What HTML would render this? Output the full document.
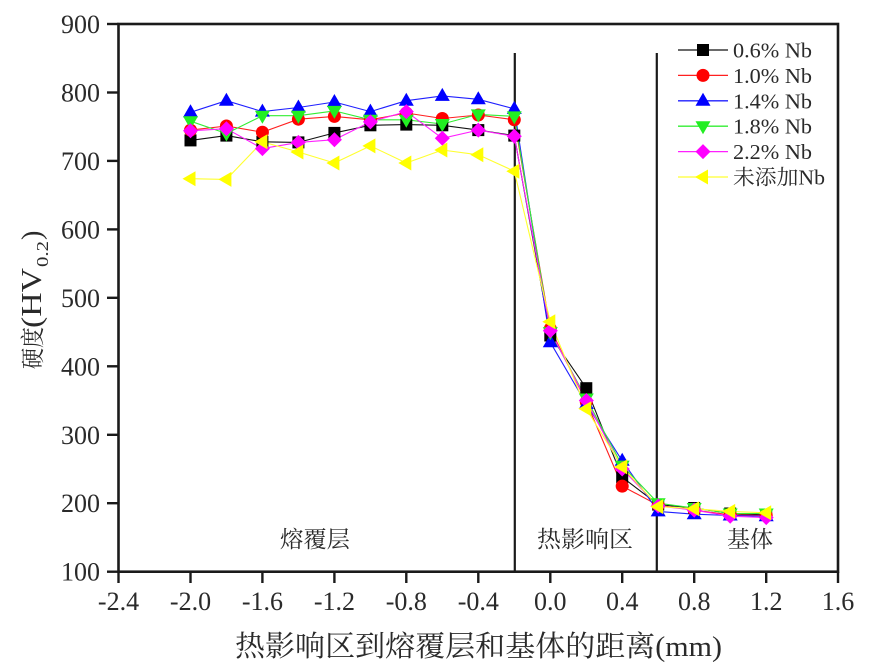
<!DOCTYPE html>
<html>
<head>
<meta charset="utf-8">
<style>
html,body{margin:0;padding:0;background:#fff;}
svg{display:block;}
text{font-family:"Liberation Serif","Noto Serif CJK SC",serif;fill:#2a2a2a;}
</style>
</head>
<body>
<svg width="872" height="668" viewBox="0 0 872 668" xmlns="http://www.w3.org/2000/svg">
<defs>
  <rect id="sq" x="-6" y="-6" width="12" height="12" fill="#000"/>
  <circle id="ci" cx="0" cy="0" r="6.5" fill="#ff0000"/>
  <polygon id="tu" points="0,-8 7.5,5 -7.5,5" fill="#0000ff"/>
  <polygon id="td" points="0,8 7.5,-5 -7.5,-5" fill="#22ee22"/>
  <polygon id="di" points="0,-7.5 7.5,0 0,7.5 -7.5,0" fill="#ff00ff"/>
  <polygon id="tl" points="-8,0 5,-7.5 5,7.5" fill="#ffff00"/>
</defs>

<!-- frame -->
<rect x="118.5" y="24" width="719.5" height="547.7" fill="none" stroke="#1a1a1a" stroke-width="2.6"/>

<!-- dividers -->
<line x1="514.8" y1="53" x2="514.8" y2="571.7" stroke="#1a1a1a" stroke-width="2.2"/>
<line x1="656.8" y1="53" x2="656.8" y2="571.7" stroke="#1a1a1a" stroke-width="2.2"/>

<!-- y ticks -->
<g stroke="#1a1a1a" stroke-width="2.4">
  <line x1="107" y1="24" x2="118.5" y2="24"/>
  <line x1="107" y1="92.5" x2="118.5" y2="92.5"/>
  <line x1="107" y1="160.9" x2="118.5" y2="160.9"/>
  <line x1="107" y1="229.4" x2="118.5" y2="229.4"/>
  <line x1="107" y1="297.8" x2="118.5" y2="297.8"/>
  <line x1="107" y1="366.3" x2="118.5" y2="366.3"/>
  <line x1="107" y1="434.8" x2="118.5" y2="434.8"/>
  <line x1="107" y1="503.2" x2="118.5" y2="503.2"/>
  <line x1="107" y1="571.7" x2="118.5" y2="571.7"/>
</g>
<g font-size="26" text-anchor="end">
  <text x="100" y="33">900</text>
  <text x="100" y="101.5">800</text>
  <text x="100" y="169.9">700</text>
  <text x="100" y="238.4">600</text>
  <text x="100" y="306.8">500</text>
  <text x="100" y="375.3">400</text>
  <text x="100" y="443.8">300</text>
  <text x="100" y="512.2">200</text>
  <text x="100" y="580.7">100</text>
</g>

<!-- x ticks -->
<g stroke="#1a1a1a" stroke-width="2.4">
  <line x1="118.5" y1="571.7" x2="118.5" y2="583"/>
  <line x1="190.5" y1="571.7" x2="190.5" y2="583"/>
  <line x1="262.4" y1="571.7" x2="262.4" y2="583"/>
  <line x1="334.4" y1="571.7" x2="334.4" y2="583"/>
  <line x1="406.3" y1="571.7" x2="406.3" y2="583"/>
  <line x1="478.3" y1="571.7" x2="478.3" y2="583"/>
  <line x1="550.3" y1="571.7" x2="550.3" y2="583"/>
  <line x1="622.2" y1="571.7" x2="622.2" y2="583"/>
  <line x1="694.2" y1="571.7" x2="694.2" y2="583"/>
  <line x1="766.2" y1="571.7" x2="766.2" y2="583"/>
  <line x1="838" y1="571.7" x2="838" y2="583"/>
</g>
<g font-size="26" text-anchor="middle">
  <text x="118.5" y="610">-2.4</text>
  <text x="190.5" y="610">-2.0</text>
  <text x="262.4" y="610">-1.6</text>
  <text x="334.4" y="610">-1.2</text>
  <text x="406.3" y="610">-0.8</text>
  <text x="478.3" y="610">-0.4</text>
  <text x="550.3" y="610">0.0</text>
  <text x="622.2" y="610">0.4</text>
  <text x="694.2" y="610">0.8</text>
  <text x="766.2" y="610">1.2</text>
  <text x="838" y="610">1.6</text>
</g>

<!-- x title -->
<text x="235" y="656" font-size="29" textLength="487" lengthAdjust="spacingAndGlyphs">热影响区到熔覆层和基体的距离(mm)</text>

<!-- y title -->
<g transform="translate(41,369) rotate(-90)">
  <text x="0" y="0" font-size="24" textLength="42" lengthAdjust="spacingAndGlyphs">硬度</text>
  <text x="41" y="0" font-size="28" textLength="60" lengthAdjust="spacingAndGlyphs">(HV</text>
  <text x="102" y="7" font-size="17" textLength="26" lengthAdjust="spacingAndGlyphs">0.2</text>
  <text x="129" y="0" font-size="28">)</text>
</g>

<!-- region labels -->
<text x="315" y="547" font-size="23" text-anchor="middle" textLength="70" lengthAdjust="spacingAndGlyphs">熔覆层</text>
<text x="585" y="547" font-size="23" text-anchor="middle" textLength="96" lengthAdjust="spacingAndGlyphs">热影响区</text>
<text x="750" y="547" font-size="23" text-anchor="middle" textLength="46" lengthAdjust="spacingAndGlyphs">基体</text>

<!-- series lines -->
<g fill="none" stroke-width="1.1" stroke-linejoin="round">
  <polyline stroke="#111" points="190.5,140.4 226.4,135.6 262.4,141.8 298.4,142.4 334.4,132.9 370.4,125.3 406.3,124.6 442.3,125.3 478.3,130.1 514.3,135.6 550.3,335.5 586.3,388.2 622.2,477.2 658.2,504.6 694.2,508.0 730.2,513.5 766.2,514.9"/>
  <polyline stroke="#ff2020" points="190.5,130.1 226.4,126.0 262.4,132.2 298.4,119.2 334.4,116.4 370.4,119.8 406.3,113.0 442.3,118.5 478.3,115.0 514.3,119.8 550.3,328.7 586.3,401.9 622.2,486.1 658.2,505.3 694.2,510.1 730.2,514.9 766.2,515.5"/>
  <polyline stroke="#2020ff" points="190.5,112.3 226.4,100.7 262.4,111.6 298.4,107.5 334.4,102.0 370.4,111.6 406.3,100.7 442.3,95.9 478.3,99.3 514.3,108.9 550.3,342.3 586.3,404.0 622.2,460.8 658.2,511.4 694.2,514.2 730.2,515.5 766.2,516.2"/>
  <polyline stroke="#33ee33" points="190.5,121.2 226.4,133.5 262.4,115.7 298.4,115.7 334.4,110.9 370.4,119.8 406.3,119.8 442.3,124.0 478.3,114.4 514.3,116.4 550.3,332.1 586.3,398.5 622.2,465.6 658.2,503.2 694.2,508.0 730.2,513.5 766.2,513.5"/>
  <polyline stroke="#ff20ff" points="190.5,130.8 226.4,128.7 262.4,148.6 298.4,142.4 334.4,139.7 370.4,121.9 406.3,111.6 442.3,138.3 478.3,130.1 514.3,136.3 550.3,330.7 586.3,400.5 622.2,469.0 658.2,506.0 694.2,510.1 730.2,516.2 766.2,517.6"/>
  <polyline stroke="#ffff30" points="190.5,178.7 226.4,179.4 262.4,141.8 298.4,152.0 334.4,163.0 370.4,145.9 406.3,163.0 442.3,150.0 478.3,154.8 514.3,171.2 550.3,321.8 586.3,408.8 622.2,466.9 658.2,506.6 694.2,508.7 730.2,511.4 766.2,512.8"/>
</g>

<!-- markers: black -->
<g>
  <use href="#sq" x="190.5" y="140.4"/><use href="#sq" x="226.4" y="135.6"/><use href="#sq" x="262.4" y="141.8"/><use href="#sq" x="298.4" y="142.4"/><use href="#sq" x="334.4" y="132.9"/><use href="#sq" x="370.4" y="125.3"/><use href="#sq" x="406.3" y="124.6"/><use href="#sq" x="442.3" y="125.3"/><use href="#sq" x="478.3" y="130.1"/><use href="#sq" x="514.3" y="135.6"/><use href="#sq" x="550.3" y="335.5"/><use href="#sq" x="586.3" y="388.2"/><use href="#sq" x="622.2" y="477.2"/><use href="#sq" x="658.2" y="504.6"/><use href="#sq" x="694.2" y="508.0"/><use href="#sq" x="730.2" y="513.5"/><use href="#sq" x="766.2" y="514.9"/>
</g>
<!-- red -->
<g>
  <use href="#ci" x="190.5" y="130.1"/><use href="#ci" x="226.4" y="126.0"/><use href="#ci" x="262.4" y="132.2"/><use href="#ci" x="298.4" y="119.2"/><use href="#ci" x="334.4" y="116.4"/><use href="#ci" x="370.4" y="119.8"/><use href="#ci" x="406.3" y="113.0"/><use href="#ci" x="442.3" y="118.5"/><use href="#ci" x="478.3" y="115.0"/><use href="#ci" x="514.3" y="119.8"/><use href="#ci" x="550.3" y="328.7"/><use href="#ci" x="586.3" y="401.9"/><use href="#ci" x="622.2" y="486.1"/><use href="#ci" x="658.2" y="505.3"/><use href="#ci" x="694.2" y="510.1"/><use href="#ci" x="730.2" y="514.9"/><use href="#ci" x="766.2" y="515.5"/>
</g>
<!-- blue -->
<g>
  <use href="#tu" x="190.5" y="112.3"/><use href="#tu" x="226.4" y="100.7"/><use href="#tu" x="262.4" y="111.6"/><use href="#tu" x="298.4" y="107.5"/><use href="#tu" x="334.4" y="102.0"/><use href="#tu" x="370.4" y="111.6"/><use href="#tu" x="406.3" y="100.7"/><use href="#tu" x="442.3" y="95.9"/><use href="#tu" x="478.3" y="99.3"/><use href="#tu" x="514.3" y="108.9"/><use href="#tu" x="550.3" y="342.3"/><use href="#tu" x="586.3" y="404.0"/><use href="#tu" x="622.2" y="460.8"/><use href="#tu" x="658.2" y="511.4"/><use href="#tu" x="694.2" y="514.2"/><use href="#tu" x="730.2" y="515.5"/><use href="#tu" x="766.2" y="516.2"/>
</g>
<!-- green -->
<g>
  <use href="#td" x="190.5" y="121.2"/><use href="#td" x="226.4" y="133.5"/><use href="#td" x="262.4" y="115.7"/><use href="#td" x="298.4" y="115.7"/><use href="#td" x="334.4" y="110.9"/><use href="#td" x="370.4" y="119.8"/><use href="#td" x="406.3" y="119.8"/><use href="#td" x="442.3" y="124.0"/><use href="#td" x="478.3" y="114.4"/><use href="#td" x="514.3" y="116.4"/><use href="#td" x="550.3" y="332.1"/><use href="#td" x="586.3" y="398.5"/><use href="#td" x="622.2" y="465.6"/><use href="#td" x="658.2" y="503.2"/><use href="#td" x="694.2" y="508.0"/><use href="#td" x="730.2" y="513.5"/><use href="#td" x="766.2" y="513.5"/>
</g>
<!-- magenta -->
<g>
  <use href="#di" x="190.5" y="130.8"/><use href="#di" x="226.4" y="128.7"/><use href="#di" x="262.4" y="148.6"/><use href="#di" x="298.4" y="142.4"/><use href="#di" x="334.4" y="139.7"/><use href="#di" x="370.4" y="121.9"/><use href="#di" x="406.3" y="111.6"/><use href="#di" x="442.3" y="138.3"/><use href="#di" x="478.3" y="130.1"/><use href="#di" x="514.3" y="136.3"/><use href="#di" x="550.3" y="330.7"/><use href="#di" x="586.3" y="400.5"/><use href="#di" x="622.2" y="469.0"/><use href="#di" x="658.2" y="506.0"/><use href="#di" x="694.2" y="510.1"/><use href="#di" x="730.2" y="516.2"/><use href="#di" x="766.2" y="517.6"/>
</g>
<!-- yellow -->
<g>
  <use href="#tl" x="190.5" y="178.7"/><use href="#tl" x="226.4" y="179.4"/><use href="#tl" x="262.4" y="141.8"/><use href="#tl" x="298.4" y="152.0"/><use href="#tl" x="334.4" y="163.0"/><use href="#tl" x="370.4" y="145.9"/><use href="#tl" x="406.3" y="163.0"/><use href="#tl" x="442.3" y="150.0"/><use href="#tl" x="478.3" y="154.8"/><use href="#tl" x="514.3" y="171.2"/><use href="#tl" x="550.3" y="321.8"/><use href="#tl" x="586.3" y="408.8"/><use href="#tl" x="622.2" y="466.9"/><use href="#tl" x="658.2" y="506.6"/><use href="#tl" x="694.2" y="508.7"/><use href="#tl" x="730.2" y="511.4"/><use href="#tl" x="766.2" y="512.8"/>
</g>

<!-- legend -->
<g stroke-width="1.3">
  <line x1="678" y1="50" x2="728" y2="50" stroke="#111"/>
  <line x1="678" y1="75.4" x2="728" y2="75.4" stroke="#ff2020"/>
  <line x1="678" y1="100.8" x2="728" y2="100.8" stroke="#2020ff"/>
  <line x1="678" y1="126.2" x2="728" y2="126.2" stroke="#33ee33"/>
  <line x1="678" y1="151.6" x2="728" y2="151.6" stroke="#ff20ff"/>
  <line x1="678" y1="177" x2="728" y2="177" stroke="#ffff30"/>
</g>
<use href="#sq" x="703" y="50"/>
<use href="#ci" x="703" y="75.4"/>
<use href="#tu" x="703" y="100.8"/>
<use href="#td" x="703" y="126.2"/>
<use href="#di" x="703" y="151.6"/>
<use href="#tl" x="703" y="177"/>
<g font-size="21">
  <text x="733" y="57.5" textLength="79" lengthAdjust="spacingAndGlyphs">0.6% Nb</text>
  <text x="733" y="82.9" textLength="79" lengthAdjust="spacingAndGlyphs">1.0% Nb</text>
  <text x="733" y="108.3" textLength="79" lengthAdjust="spacingAndGlyphs">1.4% Nb</text>
  <text x="733" y="133.7" textLength="79" lengthAdjust="spacingAndGlyphs">1.8% Nb</text>
  <text x="733" y="159.1" textLength="79" lengthAdjust="spacingAndGlyphs">2.2% Nb</text>
  <text x="733" y="184.5" textLength="92" lengthAdjust="spacingAndGlyphs">未添加Nb</text>
</g>
</svg>
</body>
</html>
